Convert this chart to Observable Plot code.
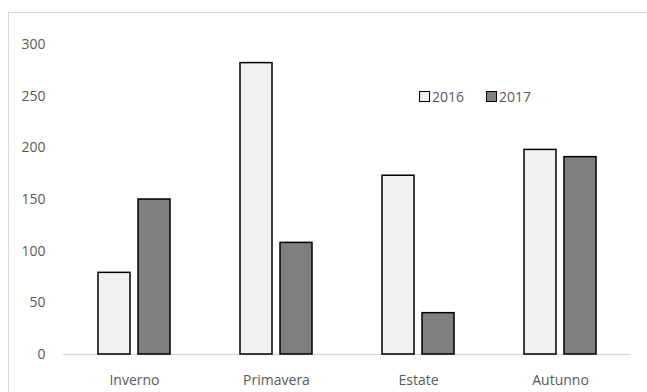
<!DOCTYPE html>
<html>
<head>
<meta charset="utf-8">
<script src="https://cdn.jsdelivr.net/npm/d3@7"></script>
<script src="https://cdn.jsdelivr.net/npm/@observablehq/plot@0.6"></script>
<style>
  html, body { margin: 0; padding: 0; background: #fff; overflow: hidden; }
  #wrap { position: relative; width: 647px; height: 392px; overflow: hidden; font-family: "Open Sans", Lato, sans-serif; }
  #border { position: absolute; left: 8px; top: 12px; width: 660px; height: 400px; border: 1px solid #d9d9d9; box-sizing: border-box; }
  #chart { position: absolute; left: 0; top: 0; }
  #legend { position: absolute; left: 419px; top: 87px; display: flex; align-items: center; font-size: 14px; color: #595959; }
  .sw { width: 9px; height: 9px; border: 1.5px solid #000; margin-right: 2px; }
  .item { display: flex; align-items: center; margin-right: 22px; }
</style>
</head>
<body>
<div id="wrap">
  <div id="border"></div>
  <div id="chart"></div>
  <div id="legend"></div>
</div>
<script>
const seasons = ["Inverno", "Primavera", "Estate", "Autunno"];
const years = ["2016", "2017"];
const values2016 = [79, 282, 173, 198];
const values2017 = [150, 108, 40, 191];
const yTicks = [0, 50, 100, 150, 200, 250, 300];
const colors = ["#f0f0f0", "#7f7f7f"];

const data = [];
seasons.forEach((s, i) => {
  data.push({season: s, year: years[0], value: values2016[i]});
  data.push({season: s, year: years[1], value: values2017[i]});
});

const chart = Plot.plot({
  width: 647,
  height: 392,
  marginLeft: 62,
  marginRight: 15,
  marginTop: 44,
  marginBottom: 38,
  style: {fontFamily: "'Open Sans', Lato, sans-serif", fontSize: "14px", color: "#595959", background: "transparent"},
  facet: {data, x: "season"},
  fx: {domain: seasons, paddingInner: 0, paddingOuter: 0, axis: "bottom", tickSize: 0, tickPadding: 21, label: null},
  x: {domain: years, paddingInner: 0.2, paddingOuter: 0.84, axis: null},
  y: {domain: [0, 300], ticks: yTicks, tickSize: 0, tickPadding: 18, label: null},
  color: {domain: years, range: colors},
  marks: [
    Plot.ruleY([0], {stroke: "#d9d9d9", strokeWidth: 1.5}),
    Plot.barY(data, {x: "year", y: "value", fill: "year", stroke: "#000", strokeWidth: 1.5})
  ]
});
document.getElementById("chart").appendChild(chart);

const legend = document.getElementById("legend");
years.forEach((y, i) => {
  const item = document.createElement("div");
  item.className = "item";
  const sw = document.createElement("div");
  sw.className = "sw";
  sw.style.background = colors[i];
  const t = document.createElement("span");
  t.textContent = y;
  item.appendChild(sw);
  item.appendChild(t);
  legend.appendChild(item);
});
</script>
</body>
</html>
